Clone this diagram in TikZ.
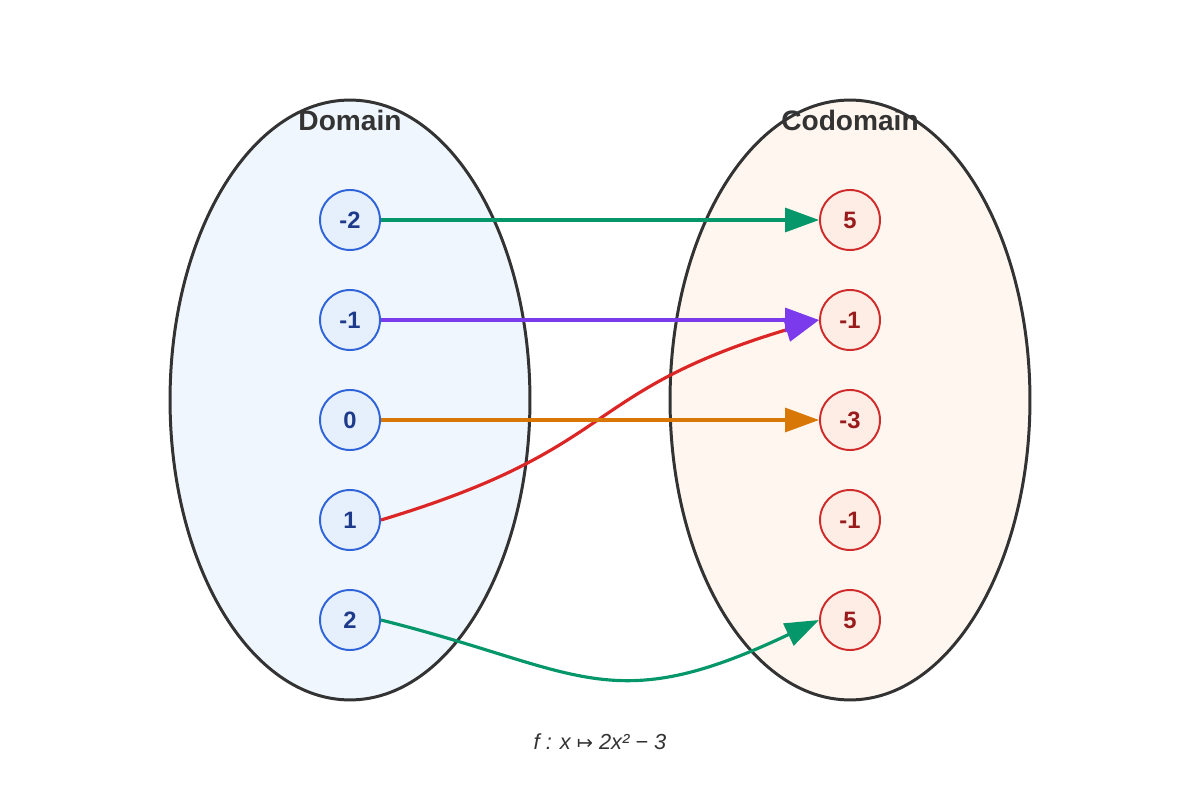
\documentclass[tikz,border=0pt]{standalone}
\usepackage{fontspec}
\setmainfont{Liberation Sans}
\newfontfamily\symfont{DejaVu Sans}
\usetikzlibrary{arrows.meta}
\definecolor{setline}{HTML}{333333}
\definecolor{domback}{HTML}{EFF6FE}
\definecolor{codback}{HTML}{FFF7EF}
\definecolor{domline}{HTML}{2F63D9}
\definecolor{domfill}{HTML}{E6F0FC}
\definecolor{domtext}{HTML}{1E3A8A}
\definecolor{codline}{HTML}{D02B2B}
\definecolor{codfill}{HTML}{FDEDE4}
\definecolor{codtext}{HTML}{991B1B}
\definecolor{mgreen}{HTML}{059669}
\definecolor{mpurple}{HTML}{7C3AED}
\definecolor{morange}{HTML}{D97706}
\definecolor{mred}{HTML}{DC2626}
\begin{document}
\begin{tikzpicture}[x=0.02cm, y=-0.02cm, >={Triangle[length=0.68cm, width=0.48cm]},
  setbox/.style={draw=setline, line width=1.7pt},
  title/.style={text=setline, font=\fontsize{16}{19}\selectfont\bfseries},
  dompt/.style={circle, draw=domline, fill=domfill, text=domtext, line width=1.1pt,
    minimum size=1.2cm, inner sep=0pt, font=\fontsize{13.5}{16}\selectfont\bfseries},
  codpt/.style={dompt, draw=codline, fill=codfill, text=codtext},
  map/.style={->, line width=1.8pt}]
\useasboundingbox (0,0) rectangle (1200,800);
% the two sets
\draw[setbox, fill=domback] (350,400) ellipse [x radius=3.6cm, y radius=6cm];
\draw[setbox, fill=codback] (850,400) ellipse [x radius=3.6cm, y radius=6cm];
\node[title] (domlbl) at (350,120) {Domain};
\node[title] (codlbl) at (850,120) {Codomain};
% elements
\node[dompt] (x1) at (350,220) {-2};
\node[dompt] (x2) at (350,320) {-1};
\node[dompt] (x3) at (350,420) {0};
\node[dompt] (x4) at (350,520) {1};
\node[dompt] (x5) at (350,620) {2};
\node[codpt] (y1) at (850,220) {5};
\node[codpt] (y2) at (850,320) {-1};
\node[codpt] (y3) at (850,420) {-3};
\node[codpt] (y4) at (850,520) {-1};
\node[codpt] (y5) at (850,620) {5};
% the mapping
\draw[map, mred, -{Triangle[length=0.68cm, width=0.48cm, color=mpurple]}]
  (x4.east) .. controls +(240,-72) and +(-240,72) .. (y2.west);
\draw[map, mgreen] (x1) -- (y1);
\draw[map, mpurple] (x2) -- (y2);
\draw[map, morange] (x3) -- (y3);
\draw[map, mgreen] (x5.east) .. controls +(200,50) and +(-210,100) .. (y5.west);
\node[text=setline, font=\fontsize{12.4}{15}\selectfont\itshape] (rule) at (600,742)
  {f : x {\symfont\upshape\fontsize{11}{13}\selectfont ↦} 2x² − 3};
\end{tikzpicture}
\end{document}
